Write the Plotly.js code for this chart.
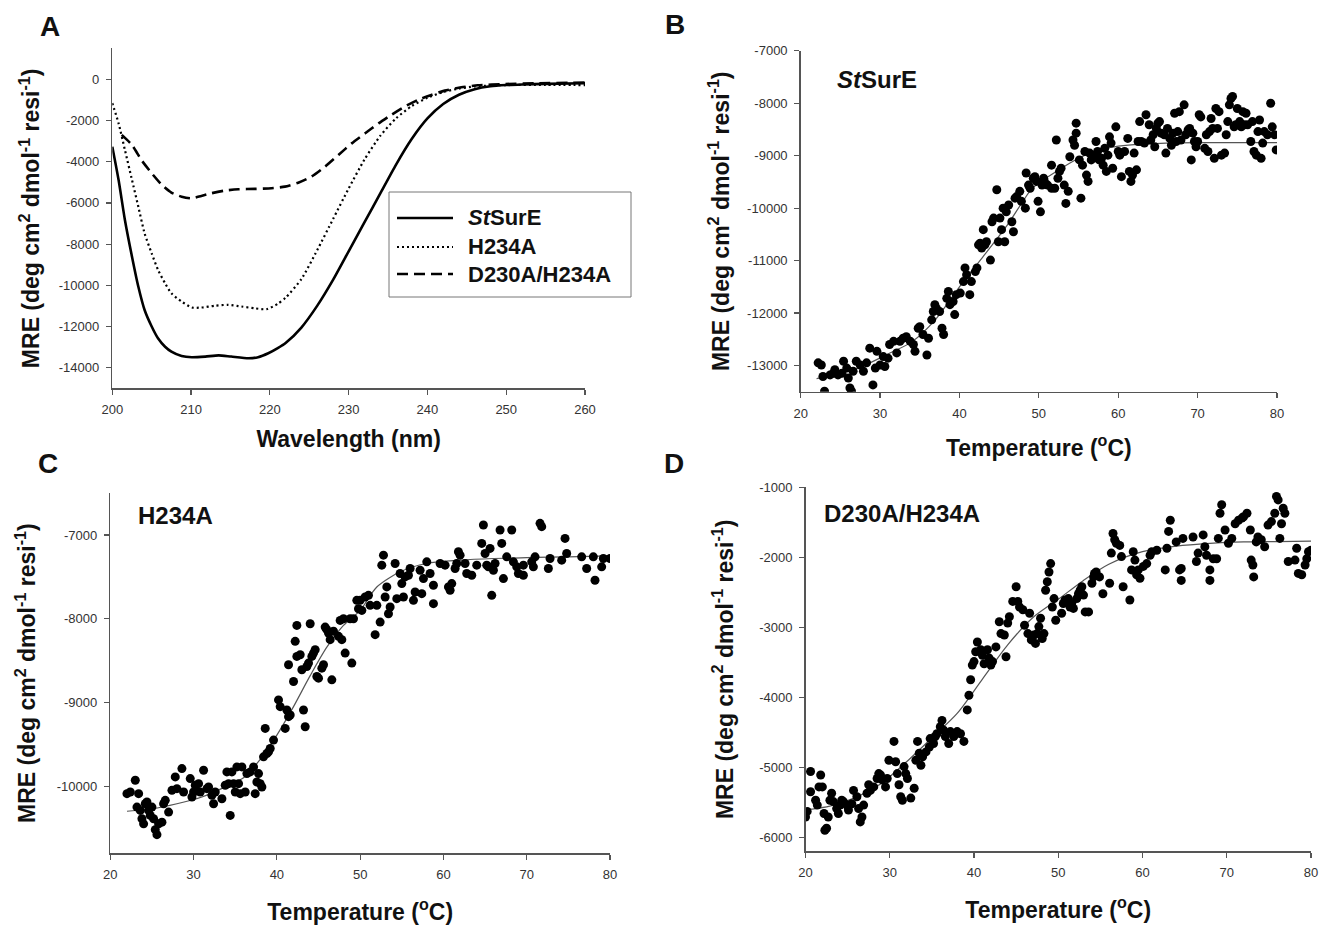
<!DOCTYPE html>
<html><head><meta charset="utf-8">
<script src="https://cdn.plot.ly/plotly-3.0.1.min.js"></script>
<style>html,body{margin:0;padding:0;background:#fff}#chart{width:1325px;height:926px}</style>
</head><body><div id="chart"></div>
<script>
// ---------- Panel A: CD spectra ----------
const wlStSurE = [200, 200.8, 201.6, 202.5, 203.3, 204.1, 205.0, 205.8, 206.7, 207.5, 208.8, 210.1, 211.8, 213.5, 215.1, 217.3, 218.5, 219.8, 221.0, 222.0, 224.0, 226.0, 228.0, 230.0, 232.0, 234.0, 236.0, 238.0, 240.0, 242.0, 244.0, 246.0, 248.0, 250.0, 252.0, 255.0, 260.0];
const mreStSurE = [-3270, -4890, -6830, -8610, -10060, -11200, -12000, -12570, -12980, -13220, -13430, -13490, -13460, -13400, -13460, -13540, -13490, -13300, -13050, -12800, -12050, -11000, -9750, -8350, -6950, -5550, -4150, -2900, -1900, -1200, -750, -480, -340, -280, -250, -220, -190];
const wlH234A = [200, 200.8, 201.6, 202.5, 203.3, 204.1, 205.0, 205.8, 206.7, 207.5, 208.8, 210.1, 211.3, 213.0, 214.7, 216.4, 218.1, 219.6, 221.0, 222.0, 224.0, 226.0, 228.0, 230.0, 232.0, 234.0, 236.0, 238.0, 240.0, 242.0, 244.0, 246.0, 248.0, 250.0, 255.0, 260.0];
const mreH234A = [-1160, -2140, -3430, -4890, -6180, -7480, -8450, -9250, -9900, -10390, -10790, -11080, -11080, -10990, -10950, -11030, -11120, -11160, -10900, -10600, -9700, -8300, -6800, -5300, -3900, -2750, -1900, -1300, -900, -620, -450, -350, -300, -280, -270, -280];
const wlD230A = [201.2, 202.5, 203.7, 205.0, 206.3, 207.5, 208.8, 210.0, 211.3, 212.6, 214.3, 216.0, 218.1, 220.2, 221.9, 223.6, 225.3, 227.0, 228.7, 230.4, 232.1, 233.8, 235.4, 237.1, 238.8, 240.5, 242.2, 244.3, 246.4, 249.8, 254.1, 260];
const mreD230A = [-2700, -3190, -3920, -4560, -5130, -5500, -5700, -5780, -5660, -5530, -5400, -5340, -5320, -5290, -5210, -5020, -4720, -4240, -3670, -3110, -2620, -2140, -1730, -1330, -1000, -760, -550, -390, -290, -230, -190, -160];
const legendNames = ['<i>St</i>SurE', 'H234A', 'D230A/H234A'];

// ---------- Panel B: StSurE thermal melt ----------
const tempB = [22.2, 22.6, 22.8, 23.0, 23.7, 24.1, 24.3, 24.7, 25.2, 25.4, 25.8, 26.0, 26.2, 26.4, 26.6, 27.0, 27.5, 27.9, 28.3, 28.7, 29.1, 29.4, 29.6, 30.0, 30.4, 30.6, 31.0, 31.2, 31.7, 32.1, 32.5, 32.9, 33.3, 33.8, 34.2, 34.4, 34.8, 35.0, 35.4, 35.9, 36.1, 36.5, 36.7, 36.9, 37.1, 37.5, 37.8, 38.0, 38.4, 38.6, 38.8, 39.2, 39.4, 39.6, 40.1, 40.5, 40.7, 40.9, 41.3, 41.5, 42.0, 42.2, 42.4, 42.6, 42.8, 43.0, 43.2, 43.4, 43.9, 44.1, 44.3, 44.7, 44.9, 45.1, 45.3, 45.5, 45.7, 45.9, 46.2, 46.6, 46.8, 47.0, 47.2, 47.6, 47.8, 48.3, 48.4, 48.7, 48.9, 49.3, 49.5, 49.7, 49.9, 50.2, 50.4, 50.6,
  50.7, 51.1, 51.6, 51.6, 52.0, 52.2, 52.4, 52.6, 52.8, 53.2, 53.4, 53.7, 53.9, 54.3, 54.5, 54.7, 54.7, 55.1, 55.3, 55.5, 55.8, 56.0, 56.2, 56.4, 56.6, 57.0, 57.2, 57.4, 57.6, 57.9, 58.1, 58.3, 58.5, 58.7, 58.9, 59.1, 59.3, 59.7, 60.0, 60.2, 60.4, 60.8, 61.2, 61.4, 61.6, 61.8, 62.0, 62.3, 62.5, 62.7, 62.9, 63.3, 63.5, 63.9, 64.1, 64.4, 64.6, 64.8, 65.0, 65.2, 65.4, 65.8, 66.0, 66.2, 66.5, 66.7, 66.9, 67.1, 67.3, 67.5, 67.7, 67.9, 68.3, 68.5, 68.8, 69.0, 69.2, 69.4, 69.6, 69.8, 70.0, 70.2, 70.4, 70.9, 71.1, 71.3, 71.5, 71.7, 71.9, 72.1, 72.3, 72.5, 72.7, 73.0, 73.4, 73.6, 73.8, 74.0, 74.2, 74.4, 74.6, 74.8, 75.0, 75.3, 75.5, 75.7, 75.9, 76.1, 76.3, 76.7, 76.9, 77.1, 77.4, 77.6, 77.8, 78.0, 78.2, 78.4, 78.8, 79.2, 79.4, 79.7, 79.9];
const mreB = [-12950, -12990, -13210, -13490, -13180, -13150, -13080, -13180, -13150, -12920, -13050, -13240, -13430, -13490, -13110, -12920, -12990, -13110, -12950, -12670, -13370, -13050, -12730, -12990, -12830, -13020, -12860, -12600, -12540, -12760, -12540, -12480, -12450, -12540, -12600, -12730, -12290, -12260, -12410, -12800, -12480, -12130, -11970, -11840, -11910, -11970, -12290, -12410, -11720, -11590, -11840, -11780, -12030, -11650, -11620, -11400, -11140, -11270, -11650, -11400, -11210, -11140, -10700, -10670, -10760, -10410, -10700, -10640, -10990, -10260, -10190, -9650, -10640, -10190, -10410, -10000, -10640, -10070, -9940, -10260, -10450, -9810, -9780, -9680, -9870, -10000, -9330, -9560, -9620, -9430, -9400, -9490, -9870, -10070, -9560, -9430,
  -9490, -9560, -9620, -9180, -9620, -8700, -9430, -9300, -9240, -9560, -9910, -9680, -9020, -8700, -8800, -8570, -8380, -9080, -9810, -9180, -8920, -9370, -9490, -8950, -9080, -8990, -8730, -8920, -9080, -9050, -9180, -8860, -9300, -8990, -8640, -8760, -9240, -8450, -8920, -8990, -9400, -8920, -8670, -9300, -9490, -9370, -8950, -9270, -8730, -8350, -8730, -8760, -8220, -8410, -8700, -8600, -8830, -8480, -8380, -8350, -8570, -8600, -8950, -8480, -8670, -8800, -8570, -8190, -8730, -8540, -8160, -8700, -8030, -8600, -8510, -8480, -9080, -8570, -8730, -8830, -8730, -8220, -8260, -8860, -8600, -8920, -8540, -8290, -8480, -9050, -8100, -8480, -8160, -8990, -8950, -8600, -8350, -8030, -7910, -7870, -8450, -8410, -8100, -8350, -8450, -8160, -8410, -8190, -8410, -8730, -8350, -8920, -8990, -8540, -8320, -9050, -8760, -8540, -8600, -8000, -8450, -8600, -8890];
const fitTempB = [22, 25, 28, 31, 34, 37, 40, 43, 46, 49, 50, 52, 55, 58, 62, 66, 70, 75, 80];
const fitMreB = [-13250, -13150, -13000, -12780, -12550, -12120, -11500, -10920, -10330, -9650, -9520, -9320, -9050, -8870, -8790, -8760, -8750, -8750, -8750];

// ---------- Panel C: H234A thermal melt ----------
const tempC = [22.0, 22.4, 23.0, 23.4, 23.2, 23.6, 23.8, 24.0, 24.2, 24.4, 24.6, 24.8, 25.0, 25.2, 25.4, 25.6, 25.8, 26.2, 26.4, 26.6, 27.0, 27.4, 27.8, 28.0, 28.6, 28.8, 29.6, 29.8, 30.0, 30.2, 30.6, 30.8, 31.2, 31.6, 31.8, 32.2, 32.4, 32.6, 33.4, 33.8, 34.0, 34.2, 34.4, 34.6, 34.8, 35.0, 35.2, 35.4, 35.6, 35.8, 36.2, 36.4, 36.8, 37.2, 37.4, 37.6, 37.8, 38.0, 38.2, 38.4, 38.6, 38.8, 39.0, 39.2, 39.6, 40.2, 40.4, 41.0, 41.2, 41.4, 41.6, 41.4, 42.0, 42.2, 42.4, 42.4, 42.8, 43.0, 43.2, 43.4, 43.6, 43.8, 44.0, 44.2, 44.4, 44.6, 44.8, 45.0, 45.4, 45.6, 45.8, 46.0, 46.2, 46.4, 46.6, 46.8, 47.4, 47.6, 47.8, 48.0, 48.2, 48.8, 49.0, 49.2, 49.6, 49.8,
  50.0, 50.2, 50.6, 51.0, 51.2, 51.8, 52.0, 52.4, 52.8, 52.6, 53.0, 53.2, 53.4, 53.6, 54.2, 54.4, 54.8, 55.0, 55.2, 55.4, 55.8, 56.0, 56.4, 56.6, 57.2, 57.4, 57.6, 58.0, 58.4, 58.8, 58.8, 59.6, 60.2, 60.6, 60.8, 61.0, 61.4, 61.6, 61.8, 62.0, 62.6, 62.8, 63.4, 64.0, 64.6, 64.8, 65.0, 65.2, 65.4, 65.6, 65.8, 66.0, 66.2, 66.8, 67.0, 67.2, 67.6, 68.2, 68.4, 68.8, 69.0, 69.6, 69.6, 70.6, 70.8, 71.0, 71.6, 71.8, 72.6, 72.8, 74.2, 74.6, 74.8, 76.6, 77.2, 78.0, 78.2, 79.0, 79.2, 80.0];
const mreC = [-10090, -10070, -9930, -10090, -10250, -10290, -10390, -10450, -10210, -10190, -10290, -10350, -10250, -10390, -10520, -10580, -10450, -10430, -10210, -10170, -10310, -10050, -9890, -10030, -9790, -10070, -9910, -10130, -10070, -9990, -9970, -10070, -9810, -10030, -10010, -10110, -10210, -10070, -10150, -9990, -9830, -9970, -10350, -9830, -9970, -10070, -9770, -9970, -10090, -9770, -10070, -9850, -9830, -9770, -10090, -9950, -9850, -9970, -10010, -9650, -9310, -9610, -9590, -9550, -9450, -8970, -9050, -9310, -9090, -9170, -9150, -8550, -8750, -8270, -8450, -8080, -8430, -8610, -9090, -9290, -8570, -8530, -8060, -8450, -8410, -8370, -8690, -8710, -8590, -8550, -8100, -8130, -8170, -8250, -8730, -8150, -8210, -8020, -8250, -8000, -8410, -8000, -8530, -8000, -7780, -7880,
  -7780, -7900, -7740, -7720, -7840, -8190, -7840, -8040, -7240, -7360, -7740, -7620, -7940, -7860, -7340, -7760, -7460, -7580, -7740, -7500, -7480, -7400, -7780, -7680, -7420, -7700, -7520, -7320, -7460, -7600, -7820, -7340, -7360, -7620, -7660, -7580, -7400, -7340, -7200, -7240, -7340, -7460, -7480, -7360, -7100, -6880, -7220, -7360, -7380, -7160, -7720, -7420, -7340, -6940, -7100, -7520, -7260, -6940, -7320, -7380, -7460, -7480, -7360, -7320, -7380, -7260, -6860, -6900, -7400, -7280, -7300, -7040, -7220, -7260, -7400, -7260, -7540, -7380, -7280, -7280];
const fitTempC = [22, 25, 28, 31, 34, 36, 38, 40, 42, 44, 46, 48, 50, 52, 55, 58, 62, 66, 70, 75, 80];
const fitMreC = [-10300, -10270, -10210, -10130, -10000, -9900, -9680, -9390, -9050, -8680, -8340, -8080, -7900, -7620, -7430, -7340, -7300, -7280, -7270, -7260, -7250];

// ---------- Panel D: D230A/H234A thermal melt ----------
const tempD = [20.0, 20.2, 20.6, 20.6, 21.2, 21.4, 21.6, 21.8, 22.0, 22.2, 22.3, 22.5, 22.7, 22.9, 23.1, 23.3, 23.7, 23.9, 24.1, 24.3, 24.5, 24.9, 25.1, 25.5, 25.7, 26.1, 26.3, 26.5, 26.7, 26.9, 27.3, 27.5, 27.7, 28.1, 28.5, 28.7, 28.9, 29.1, 29.5, 29.7, 29.9, 30.5, 30.7, 30.9, 31.1, 31.3, 31.5, 31.7, 31.9, 32.1, 32.5, 32.9, 33.1, 33.3, 33.5, 33.7, 33.9, 34.3, 34.7, 34.8, 35.2, 35.4, 35.6, 36.0, 36.2, 36.4, 36.6, 37.0, 37.2, 37.6, 38.0, 38.4, 38.8, 39.2, 39.4, 39.6, 39.8, 40.0, 40.2, 40.4, 40.8, 41.0, 41.2, 41.6, 41.8, 42.0, 42.2, 42.6, 43.0, 43.2, 43.6, 43.8, 44.0, 44.2, 44.6, 45.0, 45.2, 45.4, 45.8, 46.0, 46.4, 46.6, 46.8, 47.1, 47.3, 47.5, 47.7, 47.9, 48.1, 48.3, 48.5, 48.7, 48.9, 49.1, 49.3, 49.5, 49.7,
  50.4, 50.6, 50.8, 51.2, 51.4, 51.6, 51.8, 52.2, 52.4, 52.6, 52.8, 53.0, 53.2, 53.6, 54.0, 54.2, 54.3, 54.5, 54.9, 55.3, 56.1, 56.3, 56.5, 56.7, 56.9, 57.3, 57.5, 57.7, 58.5, 58.7, 58.9, 59.1, 59.3, 59.5, 59.7, 60.1, 60.5, 60.9, 61.1, 61.7, 62.7, 62.9, 63.1, 63.3, 64.0, 64.4, 64.6, 64.6, 64.8, 66.0, 66.4, 66.6, 67.2, 67.4, 67.6, 68.0, 68.0, 68.4, 68.8, 69.0, 69.2, 69.4, 69.8, 70.2, 70.6, 71.0, 71.4, 71.8, 72.0, 72.4, 72.8, 72.9, 73.1, 73.2, 73.5, 73.7, 74.1, 74.5, 74.9, 75.3, 75.7, 75.9, 76.1, 76.3, 76.5, 76.7, 76.9, 77.3, 78.1, 78.3, 78.5, 78.9, 79.3, 79.5, 79.7, 80.0];
const mreD = [-5710, -5630, -5350, -5060, -5470, -5540, -5280, -5110, -5280, -5660, -5900, -5870, -5710, -5470, -5370, -5490, -5590, -5660, -5540, -5470, -5490, -5540, -5610, -5520, -5330, -5420, -5590, -5780, -5710, -5540, -5370, -5250, -5330, -5280, -5160, -5090, -5110, -5180, -5280, -5160, -4900, -4630, -4920, -5090, -5250, -5420, -5470, -4990, -5090, -5160, -5440, -5300, -4900, -4630, -4800, -4970, -4850, -4780, -4710, -4590, -4660, -4560, -4520, -4420, -4330, -4470, -4560, -4660, -4490, -4560, -4490, -4520, -4630, -4180, -3970, -3750, -3540, -3490, -3350, -3210, -3320, -3400, -3520, -3320, -3440, -3540, -3490, -3280, -2920, -3090, -3110, -3420, -2940, -2850, -2630, -2420, -2630, -2710, -2750, -2970, -3090, -2800, -3180, -3110, -3230, -3090, -2990, -2870, -3160, -3090, -2470, -2350, -2210, -2090, -2710, -2590, -2900,
  -2800, -2660, -2610, -2590, -2710, -2660, -2730, -2590, -2520, -2470, -2420, -2540, -2780, -2780, -2370, -2280, -2230, -2210, -2280, -2520, -2370, -1940, -1660, -1750, -1800, -1830, -1990, -2420, -2610, -2180, -1920, -2040, -2250, -2180, -2300, -2130, -2090, -1970, -1920, -1900, -2180, -1870, -1630, -1470, -1780, -2180, -2160, -2330, -1730, -1710, -2060, -1940, -1680, -1850, -1970, -2180, -2330, -2020, -2020, -1730, -1370, -1250, -1610, -1800, -1730, -1520, -1470, -1440, -1420, -1370, -1610, -2040, -2110, -2280, -1780, -1710, -1750, -1850, -1540, -1490, -1370, -1130, -1180, -1730, -1520, -1300, -1370, -2060, -2040, -1870, -2230, -2250, -2110, -2020, -1920, -1900];
const fitTempD = [20, 23, 26, 29, 32, 35, 38, 41, 44, 47, 50, 53, 56, 60, 64, 68, 72, 76, 80];
const fitMreD = [-5610, -5550, -5430, -5230, -4920, -4580, -4230, -3740, -3250, -2860, -2600, -2330, -2100, -1920, -1840, -1800, -1780, -1775, -1770];

// ---------- Tick labels ----------
const ticksA_x = [200, 210, 220, 230, 240, 250, 260];
const ticksA_y = [-14000, -12000, -10000, -8000, -6000, -4000, -2000, 0];
const ticksA_yText = ['-14000', '-12000', '-10000', '-8000', '-6000', '-4000', '-2000', '0'];
const ticksT = [20, 30, 40, 50, 60, 70, 80];
const ticksB_y = [-13000, -12000, -11000, -10000, -9000, -8000, -7000];
const ticksB_yText = ['-13000', '-12000', '-11000', '-10000', '-9000', '-8000', '-7000'];
const ticksC_y = [-10000, -9000, -8000, -7000];
const ticksC_yText = ['-10000', '-9000', '-8000', '-7000'];
const ticksD_y = [-6000, -5000, -4000, -3000, -2000, -1000];
const ticksD_yText = ['-6000', '-5000', '-4000', '-3000', '-2000', '-1000'];

const panelLetters = ['A', 'B', 'C', 'D'];
const panelLabels = ['<i>St</i>SurE', 'H234A', 'D230A/H234A'];
const yTitle = 'MRE (deg cm<sup>2</sup> dmol<sup>-1</sup> resi<sup>-1</sup>)';
const xTitleA = 'Wavelength (nm)';
const xTitleT = 'Temperature (<sup>o</sup>C)';

// ---------- Layout helpers ----------
const W = 1325, H = 926;
const FONT = 'Liberation Sans, Arial, Helvetica, sans-serif';
const px = v => v / W;
const py = v => 1 - v / H;

function xAxis(domain, range, tickvals, title, standoff, anchor) {
  return {
    domain: domain, range: range, anchor: anchor,
    tickmode: 'array', tickvals: tickvals,
    showline: true, linecolor: '#555', linewidth: 1.5,
    ticks: 'outside', ticklen: 5, tickwidth: 1.2, tickcolor: '#555',
    showgrid: false, zeroline: false, fixedrange: true,
    tickfont: {family: FONT, size: 13, color: '#333'}, ticklabelstandoff: 4,
    title: {text: '<b>' + title + '</b>', font: {family: FONT, size: 23, color: '#111'}, standoff: standoff}
  };
}
function yAxis(domain, range, tickvals, ticktext, standoff, anchor) {
  return {
    domain: domain, range: range, anchor: anchor,
    tickmode: 'array', tickvals: tickvals, ticktext: ticktext,
    showline: true, linecolor: '#555', linewidth: 1.5,
    ticks: 'outside', ticklen: 5, tickwidth: 1.2, tickcolor: '#555',
    showgrid: false, zeroline: false, fixedrange: true,
    tickfont: {family: FONT, size: 13, color: '#333'}, ticklabelstandoff: 4,
    title: {text: '<b>' + yTitle + '</b>', font: {family: FONT, size: 23, color: '#111'}, standoff: standoff}
  };
}

const markerStyle = {size: 9, color: '#000', line: {width: 0}};
const fitStyle = {color: '#555', width: 1.2, shape: 'spline', smoothing: 0.8};

const traces = [
  {x: wlStSurE, y: mreStSurE, xaxis: 'x', yaxis: 'y', mode: 'lines', name: legendNames[0],
   line: {color: '#000', width: 2.6, shape: 'spline', smoothing: 0.6}},
  {x: wlH234A, y: mreH234A, xaxis: 'x', yaxis: 'y', mode: 'lines', name: legendNames[1],
   line: {color: '#000', width: 2.2, dash: '2px,3px', shape: 'spline', smoothing: 0.6}},
  {x: wlD230A, y: mreD230A, xaxis: 'x', yaxis: 'y', mode: 'lines', name: legendNames[2],
   line: {color: '#000', width: 2.6, dash: '11px,6px', shape: 'spline', smoothing: 0.6}},
  {x: fitTempB, y: fitMreB, xaxis: 'x2', yaxis: 'y2', mode: 'lines', line: fitStyle},
  {x: tempB, y: mreB, xaxis: 'x2', yaxis: 'y2', mode: 'markers', marker: markerStyle},
  {x: fitTempC, y: fitMreC, xaxis: 'x3', yaxis: 'y3', mode: 'lines', line: fitStyle},
  {x: tempC, y: mreC, xaxis: 'x3', yaxis: 'y3', mode: 'markers', marker: markerStyle},
  {x: fitTempD, y: fitMreD, xaxis: 'x4', yaxis: 'y4', mode: 'lines', line: fitStyle},
  {x: tempD, y: mreD, xaxis: 'x4', yaxis: 'y4', mode: 'markers', marker: markerStyle}
];

// legend box geometry (pixels)
const leg = {x0: 389, x1: 631, y0: 192, y1: 297, lx0: 397, lx1: 453, tx: 466, rows: [218, 247, 274]};
const legDash = ['solid', '2px,3px', '11px,6px'];
const legWidth = [2.6, 2.2, 2.6];

const shapes = [
  {type: 'rect', xref: 'paper', yref: 'paper', x0: px(leg.x0), x1: px(leg.x1), y0: py(leg.y1), y1: py(leg.y0),
   line: {color: '#777', width: 1}, fillcolor: 'rgba(255,255,255,0)'}
];
const annotations = [];
leg.rows.forEach((r, i) => {
  shapes.push({type: 'line', xref: 'paper', yref: 'paper', x0: px(leg.lx0), x1: px(leg.lx1), y0: py(r), y1: py(r),
    line: {color: '#000', width: legWidth[i], dash: legDash[i]}});
  annotations.push({xref: 'paper', yref: 'paper', x: px(leg.tx), y: py(r), xanchor: 'left', yanchor: 'middle',
    text: '<b>' + legendNames[i] + '</b>', showarrow: false, font: {family: FONT, size: 22, color: '#111'}});
});

const letterPos = [[50, 26], [675, 25], [48, 463], [674, 463]];
panelLetters.forEach((t, i) => {
  annotations.push({xref: 'paper', yref: 'paper', x: px(letterPos[i][0]), y: py(letterPos[i][1]),
    xanchor: 'center', yanchor: 'middle', text: '<b>' + t + '</b>', showarrow: false,
    font: {family: FONT, size: 28, color: '#111'}});
});
const labelPos = [[835, 80], [136, 515], [822, 513]];
panelLabels.forEach((t, i) => {
  annotations.push({xref: 'paper', yref: 'paper', x: px(labelPos[i][0]), y: py(labelPos[i][1]),
    xanchor: 'left', yanchor: 'middle', text: '<b>' + t + '</b>', showarrow: false,
    font: {family: FONT, size: 24, color: '#111'}});
});

const layout = {
  width: W, height: H, margin: {l: 0, r: 0, t: 0, b: 0},
  paper_bgcolor: '#fff', plot_bgcolor: 'rgba(0,0,0,0)', showlegend: false,
  xaxis: xAxis([px(112.3), px(585)], [200, 260], ticksA_x, xTitleA, 14, 'y'),
  yaxis: yAxis([py(388.3), py(48.4)], [-15000, 1500], ticksA_y, ticksA_yText, 12, 'x'),
  xaxis2: xAxis([px(800.7), px(1277)], [20, 80], ticksT, xTitleT, 20, 'y2'),
  yaxis2: yAxis([py(391.7), py(50.8)], [-13500, -7000], ticksB_y, ticksB_yText, 11, 'x2'),
  xaxis3: xAxis([px(110.3), px(610)], [20, 80], ticksT, xTitleT, 22, 'y3'),
  yaxis3: yAxis([py(853.1), py(493.2)], [-10800, -6500], ticksC_y, ticksC_yText, 14, 'x3'),
  xaxis4: xAxis([px(805.5), px(1311)], [20, 80], ticksT, xTitleT, 22, 'y4'),
  yaxis4: yAxis([py(851.3), py(487.3)], [-6200, -1000], ticksD_y, ticksD_yText, 19, 'x4'),
  shapes: shapes, annotations: annotations
};

Plotly.newPlot('chart', traces, layout, {staticPlot: true, displayModeBar: false});
</script></body></html>
